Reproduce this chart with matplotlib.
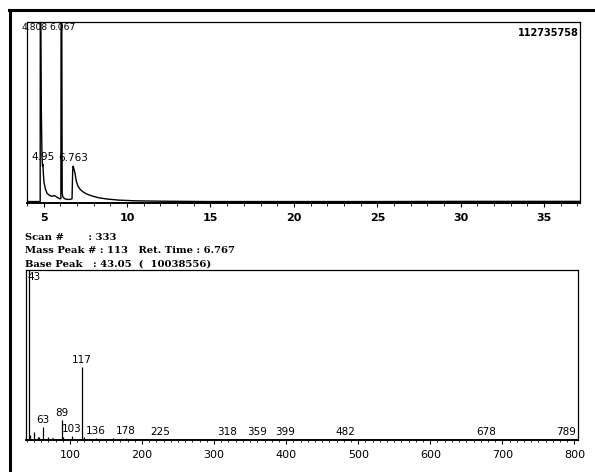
import matplotlib
matplotlib.use("Agg")
import matplotlib.pyplot as plt
from matplotlib.lines import Line2D
from matplotlib.ticker import MultipleLocator

# ---------------- data ----------------
# Chromatogram (retention time in min, relative intensity of full scale)
tic_time = [4.0, 4.5, 4.79, 4.80, 4.808, 4.82, 4.86, 4.90, 4.93, 4.95, 4.98, 5.02,
            5.1, 5.2, 5.35, 5.5, 5.62, 5.7, 5.8, 5.95, 6.03, 6.05, 6.067, 6.085,
            6.11, 6.15, 6.25, 6.4, 6.6, 6.7, 6.74, 6.763, 6.8, 6.88, 6.95, 7.05,
            7.2, 7.4, 7.6, 7.9, 8.3, 8.8, 9.5, 10.5, 12.0, 15.0, 20.0, 25.0,
            30.0, 37.2]
tic_int = [0.004, 0.004, 0.004, 1.4, 1.8, 1.2, 0.5, 0.25, 0.2, 0.21, 0.16, 0.11,
           0.075, 0.05, 0.038, 0.033, 0.037, 0.034, 0.028, 0.02, 0.02, 1.5, 1.8, 1.0,
           0.05, 0.03, 0.02, 0.016, 0.016, 0.02, 0.18, 0.2, 0.19, 0.16, 0.12, 0.09,
           0.07, 0.055, 0.045, 0.035, 0.025, 0.018, 0.012, 0.008, 0.006, 0.004, 0.004, 0.004,
           0.005, 0.005]
tic_peak_labels = ["4.808", "4.95", "6.067", "6.763"]
tic_peak_times = [4.808, 4.95, 6.067, 6.763]
tic_peak_heights = [1.8, 0.21, 1.8, 0.2]
tic_max_label = "112735758"
tic_ticks = [5, 10, 15, 20, 25, 30, 35]

# Mass spectrum (m/z, relative intensity)
ms_mz = [43, 45, 50, 55, 57, 63, 69, 75, 77, 89, 91, 103, 117, 119, 136, 160, 178,
         225, 318, 359, 399, 482, 678, 789]
ms_int = [1.0, 0.03, 0.045, 0.02, 0.015, 0.075, 0.02, 0.012, 0.01, 0.118, 0.015,
          0.025, 0.43, 0.02, 0.01, 0.012, 0.01, 0.008, 0.008, 0.008, 0.008, 0.008,
          0.007, 0.008]
ms_labeled = [43, 63, 89, 103, 117, 136, 178, 225, 318, 359, 399, 482, 678, 789]
ms_ticks = [100, 200, 300, 400, 500, 600, 700, 800]

header_lines = ["Scan #       : 333",
                "Mass Peak # : 113   Ret. Time : 6.767",
                "Base Peak   : 43.05  (  10038556)"]

# ---------------- figure ----------------
W, H = 595, 472
fig = plt.figure(figsize=(W / 100, H / 100), dpi=100)
fig.patch.set_facecolor("white")

# outer frame (top and left edges visible)
fig.add_artist(Line2D([9 / W, 1.0], [1 - 9.5 / H, 1 - 9.5 / H], color="black", lw=2.2,
                      transform=fig.transFigure))
fig.add_artist(Line2D([9.5 / W, 9.5 / W], [0.0, 1 - 9.5 / H], color="black", lw=2.2,
                      transform=fig.transFigure))

# ---- chromatogram ----
ax1 = fig.add_axes([27 / W, 1 - 203 / H, (580 - 27) / W, (203 - 22) / H])
ax1.plot(tic_time, tic_int, color="black", lw=1.0)
ax1.set_xlim(4.0, 37.15)
ax1.set_ylim(-0.004, 1.0)
ax1.set_yticks([])
ax1.set_xticks(tic_ticks)
ax1.xaxis.set_minor_locator(MultipleLocator(1))
ax1.tick_params(axis="x", which="major", direction="out", length=3, width=0.8, pad=4)
ax1.tick_params(axis="x", which="minor", direction="out", length=2, width=0.6)
for lab in ax1.get_xticklabels():
    lab.set_fontfamily("DejaVu Sans")
    lab.set_fontsize(8)
    lab.set_fontweight("bold")
for s in ax1.spines.values():
    s.set_linewidth(0.9)
ax1.spines["bottom"].set_linewidth(1.4)

# the two clipped main peaks have crowded labels along the top edge
top_align = {"4.808": ("right", 5.5), "6.067": ("left", -9.0)}
for lab, t, h in zip(tic_peak_labels, tic_peak_times, tic_peak_heights):
    if h >= 1.0:
        ha, dx = top_align.get(lab, ("center", 0))
        ax1.annotate(lab, (t, 1.0), xytext=(dx, -1), textcoords="offset points",
                     ha=ha, va="top", fontsize=6.6, family="DejaVu Sans",
                     annotation_clip=False)
    else:
        ax1.annotate(lab, (t, h), xytext=(0, 2), textcoords="offset points",
                     ha="center", va="bottom", fontsize=7.5, family="DejaVu Sans")
ax1.text(0.997, 0.965, tic_max_label, transform=ax1.transAxes, ha="right", va="top",
         fontsize=7, family="DejaVu Sans", fontweight="bold")

# ---- header text ----
for i, line in enumerate(header_lines):
    fig.text(25 / W, 1 - (237 + i * 13.5) / H, line, ha="left", va="center",
             fontsize=7.2, family="DejaVu Serif", fontweight="bold")

# ---- mass spectrum ----
ax2 = fig.add_axes([26 / W, 1 - 440 / H, (578 - 26) / W, (440 - 270) / H])
ax2.vlines(ms_mz, 0, ms_int, color="black", lw=0.9)
ax2.set_xlim(39, 805)
ax2.set_ylim(0, 1.0)
ax2.set_yticks([])
ax2.set_xticks(ms_ticks)
ax2.xaxis.set_minor_locator(MultipleLocator(10))
ax2.tick_params(axis="x", which="major", direction="out", length=3, width=0.8, pad=4)
ax2.tick_params(axis="x", which="minor", direction="out", length=1.5, width=0.6)
for lab in ax2.get_xticklabels():
    lab.set_fontfamily("DejaVu Sans")
    lab.set_fontsize(8)
for s in ax2.spines.values():
    s.set_linewidth(0.9)
ax2.spines["bottom"].set_linewidth(1.4)

for mz, inten in zip(ms_mz, ms_int):
    if mz not in ms_labeled:
        continue
    if inten >= 0.99:
        ax2.annotate(str(mz), (mz, 1.0), xytext=(-1, -1.5), textcoords="offset points",
                     ha="left", va="top", fontsize=7.5, family="DejaVu Sans")
    else:
        ax2.annotate(str(mz), (mz, inten), xytext=(0, 1.5), textcoords="offset points",
                     ha="center", va="bottom", fontsize=7.5, family="DejaVu Sans")

fig.savefig("out.png", dpi=100, facecolor="white")
